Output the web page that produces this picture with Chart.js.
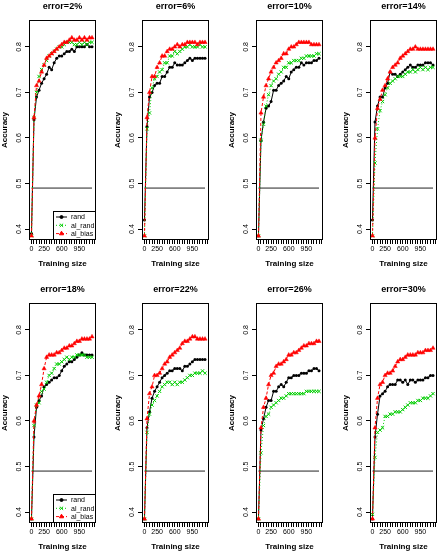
<!DOCTYPE html>
<html>
<head>
<meta charset="utf-8">
<script src="https://cdn.jsdelivr.net/npm/chart.js@4.4.0/dist/chart.umd.min.js"></script>
<style>
  body { margin: 0; background: #fff; overflow: hidden; }
  #wrap { position: relative; width: 438px; height: 555px; overflow: hidden; }
  #wrap canvas { position: absolute; }
</style>
</head>
<body>
<div id="wrap"></div>
<script>
// training sizes shared by every panel
const trainingSize = [0, 50, 100, 150, 200, 250, 300, 350, 400, 450, 500, 550, 600,
                      650, 700, 750, 800, 850, 900, 950, 1000, 1050, 1100, 1150, 1200];
const errorLevels = ["2%", "6%", "10%", "14%", "18%", "22%", "26%", "30%"];
const seriesNames = ["rand", "al_rand", "al_bias"];
const xTickLabels = [0, 250, 600, 950];
const yTickValues = [0.4, 0.5, 0.6, 0.7, 0.8];
const baselineAcc = 0.49;

// accuracy per panel (one row per error level)
const randAcc = [
  [0.39, 0.64, 0.69, 0.705, 0.72, 0.73, 0.74, 0.755, 0.75, 0.765, 0.775, 0.78, 0.78, 0.785, 0.79, 0.79, 0.795, 0.79, 0.80, 0.80, 0.80, 0.80, 0.805, 0.80, 0.80],
  [0.42, 0.625, 0.69, 0.70, 0.715, 0.72, 0.72, 0.735, 0.735, 0.745, 0.755, 0.755, 0.765, 0.76, 0.76, 0.76, 0.765, 0.77, 0.775, 0.77, 0.775, 0.775, 0.775, 0.775, 0.775],
  [0.385, 0.595, 0.635, 0.665, 0.67, 0.68, 0.705, 0.705, 0.715, 0.72, 0.725, 0.735, 0.73, 0.745, 0.75, 0.755, 0.755, 0.765, 0.76, 0.765, 0.765, 0.765, 0.77, 0.77, 0.775],
  [0.42, 0.635, 0.67, 0.69, 0.69, 0.71, 0.72, 0.745, 0.74, 0.74, 0.735, 0.74, 0.745, 0.75, 0.755, 0.76, 0.755, 0.755, 0.76, 0.76, 0.76, 0.765, 0.765, 0.765, 0.76],
  [0.385, 0.565, 0.63, 0.645, 0.655, 0.675, 0.68, 0.685, 0.69, 0.695, 0.695, 0.70, 0.71, 0.72, 0.725, 0.73, 0.73, 0.735, 0.74, 0.745, 0.75, 0.745, 0.745, 0.745, 0.745],
  [0.385, 0.585, 0.62, 0.65, 0.665, 0.675, 0.685, 0.695, 0.70, 0.705, 0.71, 0.71, 0.715, 0.715, 0.715, 0.71, 0.72, 0.72, 0.725, 0.73, 0.735, 0.735, 0.735, 0.735, 0.735],
  [0.385, 0.58, 0.605, 0.63, 0.645, 0.645, 0.665, 0.665, 0.675, 0.68, 0.675, 0.685, 0.695, 0.695, 0.70, 0.70, 0.70, 0.705, 0.705, 0.705, 0.71, 0.71, 0.715, 0.715, 0.71],
  [0.385, 0.565, 0.615, 0.655, 0.66, 0.665, 0.675, 0.68, 0.68, 0.68, 0.69, 0.69, 0.685, 0.69, 0.68, 0.69, 0.69, 0.685, 0.69, 0.69, 0.69, 0.695, 0.695, 0.70, 0.70]
];
const alRandAcc = [
  [0.385, 0.645, 0.70, 0.735, 0.75, 0.76, 0.77, 0.78, 0.785, 0.79, 0.795, 0.80, 0.80, 0.805, 0.81, 0.81, 0.81, 0.805, 0.805, 0.81, 0.805, 0.81, 0.805, 0.81, 0.81],
  [0.385, 0.62, 0.655, 0.71, 0.73, 0.735, 0.745, 0.75, 0.765, 0.765, 0.78, 0.78, 0.79, 0.785, 0.79, 0.795, 0.80, 0.80, 0.805, 0.80, 0.80, 0.80, 0.805, 0.80, 0.80],
  [0.385, 0.595, 0.63, 0.67, 0.695, 0.715, 0.725, 0.73, 0.74, 0.745, 0.755, 0.755, 0.765, 0.765, 0.77, 0.77, 0.77, 0.775, 0.775, 0.78, 0.78, 0.78, 0.78, 0.785, 0.785],
  [0.385, 0.545, 0.62, 0.66, 0.68, 0.695, 0.71, 0.72, 0.725, 0.73, 0.735, 0.735, 0.735, 0.74, 0.745, 0.745, 0.75, 0.745, 0.75, 0.755, 0.75, 0.755, 0.75, 0.755, 0.755],
  [0.385, 0.59, 0.635, 0.64, 0.665, 0.67, 0.685, 0.70, 0.705, 0.715, 0.725, 0.725, 0.73, 0.735, 0.74, 0.735, 0.74, 0.74, 0.745, 0.745, 0.745, 0.745, 0.74, 0.74, 0.74],
  [0.385, 0.575, 0.615, 0.635, 0.645, 0.655, 0.665, 0.675, 0.68, 0.685, 0.685, 0.68, 0.685, 0.68, 0.685, 0.685, 0.69, 0.695, 0.70, 0.70, 0.705, 0.705, 0.705, 0.71, 0.705],
  [0.385, 0.53, 0.59, 0.61, 0.615, 0.63, 0.635, 0.64, 0.645, 0.65, 0.65, 0.655, 0.66, 0.66, 0.66, 0.66, 0.66, 0.66, 0.66, 0.665, 0.665, 0.665, 0.665, 0.665, 0.665],
  [0.395, 0.52, 0.575, 0.58, 0.585, 0.61, 0.61, 0.615, 0.615, 0.62, 0.62, 0.62, 0.625, 0.63, 0.635, 0.64, 0.64, 0.64, 0.645, 0.645, 0.65, 0.65, 0.65, 0.655, 0.66]
];
const alBiasAcc = [
  [0.385, 0.645, 0.715, 0.725, 0.745, 0.76, 0.775, 0.78, 0.785, 0.79, 0.795, 0.80, 0.805, 0.81, 0.81, 0.815, 0.82, 0.815, 0.815, 0.82, 0.815, 0.82, 0.815, 0.82, 0.82],
  [0.385, 0.645, 0.70, 0.735, 0.735, 0.755, 0.765, 0.78, 0.78, 0.79, 0.795, 0.795, 0.80, 0.805, 0.80, 0.805, 0.805, 0.81, 0.81, 0.81, 0.81, 0.805, 0.81, 0.81, 0.81],
  [0.385, 0.655, 0.69, 0.715, 0.73, 0.745, 0.755, 0.765, 0.77, 0.775, 0.785, 0.785, 0.795, 0.80, 0.80, 0.805, 0.81, 0.81, 0.81, 0.81, 0.81, 0.805, 0.805, 0.805, 0.805],
  [0.385, 0.60, 0.665, 0.685, 0.705, 0.715, 0.73, 0.745, 0.755, 0.76, 0.765, 0.775, 0.78, 0.785, 0.79, 0.795, 0.795, 0.80, 0.795, 0.795, 0.795, 0.795, 0.795, 0.795, 0.795],
  [0.385, 0.60, 0.635, 0.655, 0.68, 0.715, 0.74, 0.745, 0.745, 0.745, 0.75, 0.75, 0.755, 0.76, 0.76, 0.765, 0.765, 0.77, 0.775, 0.775, 0.78, 0.78, 0.78, 0.78, 0.785],
  [0.385, 0.605, 0.66, 0.675, 0.70, 0.70, 0.705, 0.715, 0.725, 0.73, 0.74, 0.745, 0.75, 0.755, 0.76, 0.77, 0.775, 0.775, 0.78, 0.785, 0.785, 0.78, 0.78, 0.78, 0.78],
  [0.385, 0.585, 0.63, 0.65, 0.68, 0.70, 0.705, 0.72, 0.725, 0.725, 0.73, 0.735, 0.745, 0.745, 0.75, 0.75, 0.755, 0.76, 0.765, 0.765, 0.77, 0.77, 0.77, 0.775, 0.775],
  [0.385, 0.585, 0.65, 0.68, 0.685, 0.70, 0.705, 0.705, 0.71, 0.72, 0.73, 0.735, 0.735, 0.74, 0.745, 0.745, 0.745, 0.745, 0.75, 0.75, 0.75, 0.755, 0.755, 0.755, 0.76]
];

const FONT = "'Liberation Sans', Arial, Helvetica, sans-serif";
Chart.defaults.font.family = FONT;
Chart.defaults.color = "#000";

const yAxisW = 29, plotW = 67, plotBottom = 240;
const CW = yAxisW * 2 + plotW, CH = 272;   // symmetric so the title centres over the plot
const colLeft = [0, 113, 227, 341];
const rowTop = [0, 283];

// box around the plot + R style legend in the corner
const framePlugin = {
  id: "frame",
  afterDatasetsDraw(chart, args, opts) {
    const ctx = chart.ctx, a = chart.chartArea;
    ctx.save();
    ctx.strokeStyle = "#000";
    ctx.lineWidth = 1;
    ctx.strokeRect(Math.round(a.left) + 0.5, Math.round(a.top) + 0.5,
                   Math.round(a.right - a.left) - 1, Math.round(a.bottom - a.top) - 1);
    if (opts.legend) {
      const w = 43, h = 29;
      const lx = Math.round(a.right) - w, ly = Math.round(a.bottom) - h;
      ctx.fillStyle = "#fff";
      ctx.fillRect(lx, ly, w, h);
      ctx.strokeRect(lx + 0.5, ly + 0.5, w - 1, h - 1);
      ctx.font = "7px " + FONT;
      ctx.textBaseline = "middle";
      seriesNames.forEach((name, i) => {
        const ds = chart.data.datasets.find(d => d.label === name);
        const y = ly + 6 + i * 8.3;
        ctx.save();
        ctx.strokeStyle = ds.borderColor;
        ctx.setLineDash(ds.borderDash || []);
        ctx.beginPath();
        ctx.moveTo(lx + 3, y);
        ctx.lineTo(lx + 14, y);
        ctx.stroke();
        ctx.setLineDash([]);
        ctx.fillStyle = ds.backgroundColor;
        Chart.helpers.drawPoint(ctx, {
          pointStyle: ds.pointStyle, radius: ds.pointRadius,
          borderWidth: ds.pointBorderWidth || 1, rotation: 0
        }, lx + 8.5, y);
        ctx.restore();
        ctx.fillStyle = "#000";
        ctx.fillText(name, lx + 18, y + 0.5);
      });
    }
    ctx.restore();
  }
};

function xTicks() {
  const t = [];
  for (let v = 0; v <= 1250; v += 50) t.push({ value: v });
  return t;
}

const wrap = document.getElementById("wrap");
errorLevels.forEach((err, p) => {
  const cv = document.createElement("canvas");
  cv.width = CW; cv.height = CH;
  cv.style.left = colLeft[p % 4] + "px";
  cv.style.top = rowTop[Math.floor(p / 4)] + "px";
  wrap.appendChild(cv);

  const pts = arr => trainingSize.map((x, i) => ({ x: x, y: arr[i] }));
  new Chart(cv.getContext("2d"), {
    type: "line",
    data: {
      datasets: [
        {
          label: "al_bias", data: pts(alBiasAcc[p]), order: 1,
          borderColor: "#ff0000", backgroundColor: "#ff0000", borderWidth: 1, borderDash: [3, 2],
          pointStyle: "triangle", pointRadius: 2.4, pointBorderWidth: 0.5,
          pointBackgroundColor: "#ff0000", pointBorderColor: "#ff0000"
        },
        {
          label: "al_rand", data: pts(alRandAcc[p]), order: 2,
          borderColor: "#00cd00", backgroundColor: "#00cd00", borderWidth: 1, borderDash: [1, 2],
          pointStyle: "crossRot", pointRadius: 2.3, pointBorderWidth: 1,
          pointBorderColor: "#00cd00"
        },
        {
          label: "rand", data: pts(randAcc[p]), order: 3,
          borderColor: "#000", backgroundColor: "#000", borderWidth: 1,
          pointStyle: "circle", pointRadius: 1.5, pointBorderWidth: 0,
          pointBackgroundColor: "#000"
        },
        {
          label: "baseline", order: 4,
          data: [{ x: trainingSize[0], y: baselineAcc },
                 { x: trainingSize[trainingSize.length - 1], y: baselineAcc }],
          borderColor: "#222", borderWidth: 1, pointRadius: 0
        }
      ]
    },
    options: {
      responsive: false,
      animation: false,
      events: [],
      layout: { padding: 0 },
      plugins: {
        legend: { display: false },
        tooltip: { enabled: false },
        title: {
          display: true, text: "error=" + err, color: "#000",
          font: { size: 9, weight: "bold" }, padding: { top: 1, bottom: 8.2 }
        },
        frame: { legend: p === 0 || p === 4 }
      },
      scales: {
        x: {
          type: "linear", min: -49, max: 1279,
          afterBuildTicks: s => { s.ticks = xTicks(); },
          afterFit: s => { s.height = CH - plotBottom; },
          ticks: {
            autoSkip: false, maxRotation: 0, minRotation: 0, padding: 1,
            font: { size: 7 }, color: "#000",
            callback: v => xTickLabels.includes(v) ? String(v) : ""
          },
          grid: { drawOnChartArea: false, drawTicks: true, tickLength: 4, color: "#000" },
          border: { display: false },
          title: {
            display: true, text: "Training size", color: "#000",
            font: { size: 8, weight: "bold" }, padding: { top: 0, bottom: 3 }
          }
        },
        y: {
          min: 0.376, max: 0.859,
          afterBuildTicks: s => { s.ticks = yTickValues.map(v => ({ value: v })); },
          afterFit: s => { s.width = yAxisW; },
          ticks: {
            minRotation: 90, maxRotation: 90, crossAlign: "center", padding: 1,
            font: { size: 7 }, color: "#000",
            callback: v => v.toFixed(1)
          },
          grid: { drawOnChartArea: false, drawTicks: true, tickLength: 4, color: "#000" },
          border: { display: false },
          title: {
            display: true, text: "Accuracy", color: "#000",
            font: { size: 8, weight: "bold" }, padding: { top: 0, bottom: 0 }
          }
        },
        // empty right-hand axis, only reserves space so the plot sits centred
        yPad: {
          position: "right", min: 0, max: 1,
          afterFit: s => { s.width = yAxisW; },
          ticks: { display: false },
          grid: { display: false, drawTicks: false },
          border: { display: false }
        }
      }
    },
    plugins: [framePlugin]
  });
});
</script>
</body>
</html>
